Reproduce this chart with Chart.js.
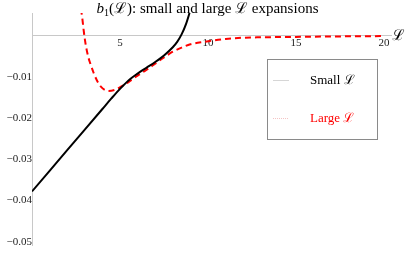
<!DOCTYPE html>
<html>
<head>
<meta charset="utf-8">
<script src="https://cdn.jsdelivr.net/npm/chart.js@4.4.1/dist/chart.umd.min.js"></script>
<style>
  html, body { margin: 0; padding: 0; background: #fff; }
  #wrap { width: 407px; height: 254px; position: relative; }
</style>
</head>
<body>
<div id="wrap"><canvas id="c"></canvas></div>
<script>
// b1(L): small-L and large-L expansions
const smallX = [0, 1, 2, 3, 4, 4.5, 5, 5.5, 6, 6.5, 7, 7.5, 8, 8.25, 8.5, 8.75, 9];
const smallY = [-0.0378, -0.0328, -0.0278, -0.0228, -0.0178, -0.0153, -0.0129, -0.0108,
  -0.0092, -0.0078, -0.0064, -0.0048, -0.0028, -0.0015, 0.0003, 0.0028, 0.0062];

const largeX = [2.78, 2.85, 2.92, 3.0, 3.1, 3.2, 3.3, 3.5, 3.67, 3.9, 4.34, 4.8, 5.2, 5.5, 6.0,
  6.5, 7.0, 7.5, 8.0, 8.5, 9.0, 9.8, 11, 12, 13, 15, 17, 20];
const largeY = [0.0065, 0.0045, 0.0019, -0.0008, -0.0033, -0.0052, -0.0066, -0.0090, -0.0107,
  -0.0123, -0.0134, -0.0130, -0.0120, -0.0112, -0.0097, -0.0083, -0.0068, -0.0053, -0.0039,
  -0.0029, -0.0021, -0.0015, -0.0008, -0.0005, -0.0004, -0.0003, -0.0002, -0.0001];

const xTicks = [5, 10, 15, 20];
const yTicks = [-0.05, -0.04, -0.03, -0.02, -0.01];
const seriesNames = ["Small \u2112", "Large \u2112"];
const title = "(\u2112): small and large \u2112 expansions";

const SERIF = "'Liberation Serif', 'DejaVu Serif', serif";
const pts = (xs, ys) => xs.map((x, i) => ({ x, y: ys[i] }));

// title, axis letter and the boxed legend drawn on top
const overlay = {
  id: "overlay",
  afterDraw(chart) {
    const ctx = chart.ctx;
    ctx.save();
    // title: b_1(L): ...
    ctx.fillStyle = "#000";
    ctx.textBaseline = "alphabetic";
    ctx.font = "italic 15px " + SERIF;
    const bW = ctx.measureText("b").width;
    ctx.font = "10px " + SERIF;
    const oneW = ctx.measureText("1").width;
    ctx.font = "15px " + SERIF;
    const restW = ctx.measureText(title).width;
    let x = 207.5 - (bW + oneW + restW) / 2;
    ctx.font = "italic 15px " + SERIF;
    ctx.fillText("b", x, 13);
    x += bW;
    ctx.font = "10px " + SERIF;
    ctx.fillText("1", x, 16);
    x += oneW;
    ctx.font = "15px " + SERIF;
    ctx.fillText(title, x, 13);

    // axis letter
    ctx.font = "15px " + SERIF;
    ctx.textBaseline = "middle";
    ctx.fillText("\u2112", 392, 36);

    // legend
    ctx.fillStyle = "#fff";
    ctx.fillRect(267.5, 59.5, 110, 80);
    ctx.strokeStyle = "#8a8a8a";
    ctx.lineWidth = 1;
    ctx.strokeRect(267.5, 59.5, 110, 80);
    const rows = [80, 118];
    chart.data.datasets.forEach((ds, i) => {
      ctx.strokeStyle = i === 0 ? "#d6d6d6" : "#f4c4c4";
      ctx.setLineDash(i === 0 ? [] : [1, 1]);
      ctx.beginPath();
      ctx.moveTo(273, rows[i] + 0.5);
      ctx.lineTo(289, rows[i] + 0.5);
      ctx.stroke();
      ctx.setLineDash([]);
      ctx.fillStyle = ds.borderColor;
      ctx.font = "13px " + SERIF;
      ctx.textBaseline = "middle";
      ctx.fillText(ds.label, 310, rows[i] + 1);
    });
    ctx.restore();
  },
};

new Chart(document.getElementById("c"), {
  type: "scatter",
  data: {
    datasets: [
      {
        label: seriesNames[0],
        data: pts(smallX, smallY),
        showLine: true,
        borderColor: "#000000",
        borderWidth: 2,
        pointRadius: 0,
        cubicInterpolationMode: "monotone",
      },
      {
        label: seriesNames[1],
        data: pts(largeX, largeY),
        showLine: true,
        borderColor: "#ff0000",
        borderWidth: 2,
        borderDash: [6, 4],
        pointRadius: 0,
        cubicInterpolationMode: "monotone",
      },
    ],
  },
  options: {
    responsive: true,
    maintainAspectRatio: false,
    animation: false,
    layout: { padding: { left: 32, right: 16, top: 13, bottom: 9 } },
    plugins: { legend: { display: false }, tooltip: { enabled: false } },
    scales: {
      x: {
        type: "linear",
        min: 0,
        max: 20.4,
        position: { y: 0 },
        afterBuildTicks: (s) => { s.ticks = xTicks.map((v) => ({ value: v })); },
        grid: { drawOnChartArea: false, drawTicks: false, color: "#bbb" },
        border: { color: "#c8c8c8" },
        ticks: { font: { family: SERIF, size: 11 }, color: "#222", padding: 1, maxRotation: 0 },
      },
      y: {
        type: "linear",
        min: -0.0508,
        max: 0.0055,
        position: { x: 0 },
        afterBuildTicks: (s) => { s.ticks = yTicks.map((v) => ({ value: v })); },
        grid: { drawOnChartArea: false, drawTicks: false, color: "#bbb" },
        border: { color: "#c8c8c8" },
        ticks: {
          font: { family: SERIF, size: 11 },
          color: "#222",
          padding: 1,
          callback: (v) => "\u2212" + Math.abs(v).toFixed(2),
        },
      },
    },
  },
  plugins: [overlay],
});
</script>
</body>
</html>
